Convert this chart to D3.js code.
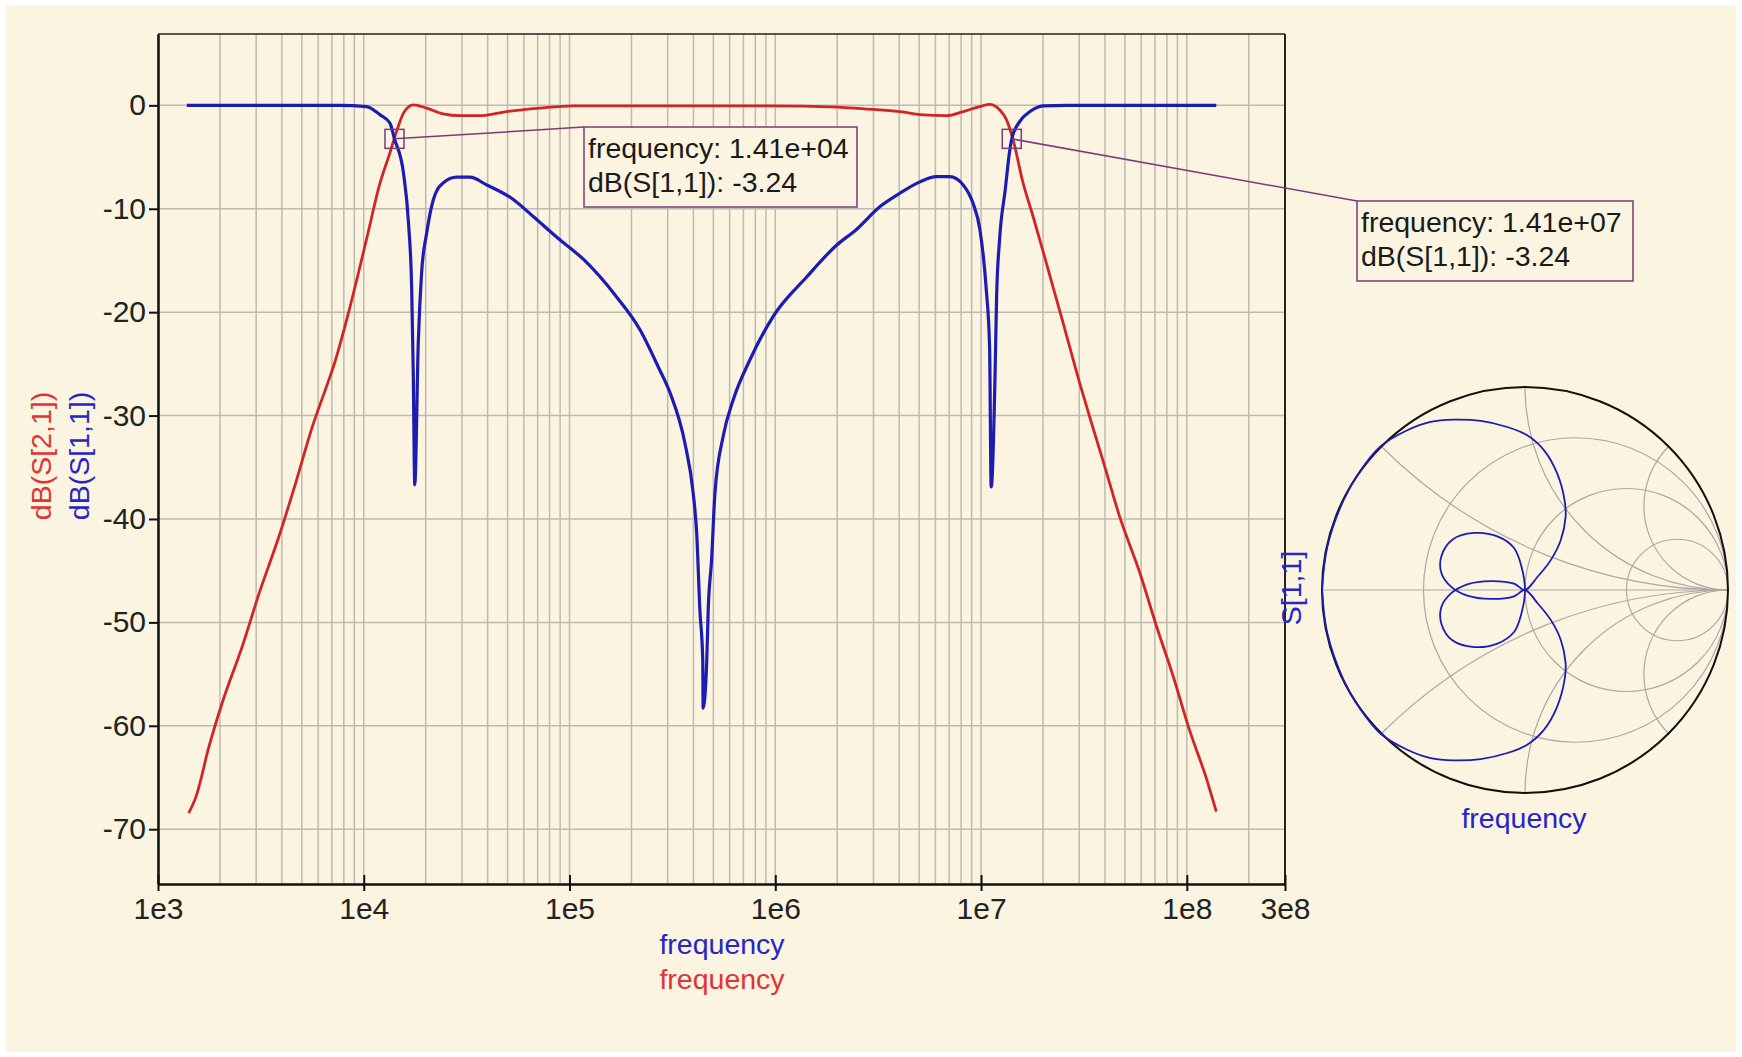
<!DOCTYPE html>
<html><head><meta charset="utf-8">
<script src="https://cdn.jsdelivr.net/npm/d3@7"></script>
<style>body{margin:0;background:#fff;} svg{display:block;}</style>
</head><body><svg id="c" width="1742" height="1057"></svg>
<script>
// ---------------- data ----------------
const xTickVals = [1e3, 1e4, 1e5, 1e6, 1e7, 1e8, 3e8];
const xTickLabels = ["1e3", "1e4", "1e5", "1e6", "1e7", "1e8", "3e8"];
const yTickVals = [0, -10, -20, -30, -40, -50, -60, -70];
const yTickLabels = ["0", "-10", "-20", "-30", "-40", "-50", "-60", "-70"];

// dB(S[2,1]) (red)
const s21Freq = [1.41e3, 1.53e3, 1.77e3, 2.05e3, 2.57e3, 3.10e3, 3.87e3, 4.67e3, 5.62e3, 6.78e3,
  7.11e3, 8.57e3, 1.03e4, 1.20e4, 1.34e4, 1.45e4, 1.56e4, 1.74e4, 2.02e4, 2.43e4,
  2.93e4, 3.67e4, 4.95e4, 7.18e4, 1.04e5, 2.09e5, 9.16e5, 2.02e6, 2.78e6, 3.22e6,
  4.03e6, 5.23e6, 6.80e6, 8.19e6, 9.87e6, 1.10e7, 1.23e7, 1.33e7, 1.43e7, 1.60e7,
  1.79e7, 2.08e7, 2.51e7, 3.02e7, 3.38e7, 3.64e7, 3.92e7, 4.72e7, 5.91e7, 7.13e7,
  8.58e7, 1.03e8, 1.25e8, 1.39e8];
const s21Db = [-68.45, -66.85, -62.0, -57.8, -52.3, -47.2, -41.7, -36.5, -31.1, -26.5,
  -25.3, -19.5, -13.0, -7.5, -4.6, -2.4, -0.75, 0.05, -0.27, -0.82,
  -1.0, -1.0, -0.6, -0.27, -0.05, -0.05, -0.05, -0.17, -0.37, -0.43,
  -0.6, -0.92, -1.0, -0.6, -0.12, 0.1, -0.43, -1.4, -3.3, -7.5,
  -10.75, -15.3, -21.1, -26.9, -30.2, -32.3, -34.4, -39.8, -45.2, -50.4,
  -55.2, -60.4, -65.2, -68.3];

// dB(S[1,1]) (blue)
const s11Freq = [1.38e3, 7.66e3, 1.03e4, 1.20e4, 1.34e4, 1.41e4, 1.56e4, 1.65e4, 1.71e4, 1.74e4,
  1.77e4, 1.84e4, 1.91e4, 2.02e4, 2.18e4, 2.43e4, 2.83e4, 3.28e4, 3.96e4, 5.33e4,
  6.66e4, 8.98e4, 1.17e5, 1.69e5, 2.20e5, 2.70e5, 3.08e5, 3.64e5, 3.99e5, 4.15e5,
  4.30e5, 4.44e5, 4.46e5, 4.64e5, 4.72e5, 4.90e5, 5.09e5, 5.58e5, 6.24e5, 7.53e5,
  9.77e5, 1.42e6, 1.99e6, 2.48e6, 3.22e6, 4.03e6, 5.04e6, 6.08e6, 7.05e6, 8.19e6,
  9.15e6, 9.87e6, 1.06e7, 1.10e7, 1.12e7, 1.17e7, 1.19e7, 1.23e7, 1.31e7, 1.38e7,
  1.41e7, 1.54e7, 1.73e7, 2.00e7, 2.60e7, 1.39e8];
const s11Db = [0, 0, -0.12, -0.92, -1.72, -3.24, -6.56, -11.4, -17.8, -25.9,
  -36.7, -23.0, -16.2, -12.4, -9.1, -7.5, -6.95, -6.95, -7.7, -9.1,
  -10.75, -13.0, -14.9, -18.5, -21.7, -25.3, -27.8, -32.7, -37.5, -41.4,
  -48.8, -53.6, -58.3, -53.9, -48.8, -44.0, -37.5, -32.0, -28.5, -24.6,
  -20.4, -16.6, -13.5, -12.0, -9.8, -8.5, -7.4, -6.9, -6.9, -7.7,
  -9.5, -12.0, -17.8, -23.3, -36.9, -25.9, -18.5, -13.0, -8.2, -4.3,
  -3.24, -1.57, -0.6, -0.05, 0, 0];

// markers
const markerFreq = [1.41e4, 1.41e7];
const markerDb = [-3.24, -3.24];
const markerText1 = ["frequency: 1.41e+04", "frequency: 1.41e+07"];
const markerText2 = ["dB(S[1,1]): -3.24", "dB(S[1,1]): -3.24"];

// S[1,1] on Smith chart (reflection coefficient, real / imag)
const gammaRe = [-1.0, -0.974, -0.895, -0.815, -0.711, -0.580, -0.465, -0.350, -0.218, -0.087,
  0.011, 0.094, 0.159, 0.195, 0.200, 0.176, 0.126, 0.061, 0.0,
  -0.054, -0.169, -0.284, -0.366, -0.412, -0.412, -0.358, -0.251, -0.136, -0.054, -0.018, 0.0,
  -0.018, -0.054, -0.136, -0.251, -0.358, -0.412, -0.412, -0.366, -0.284, -0.169, -0.054, 0.0,
  0.061, 0.126, 0.176, 0.200, 0.195, 0.159, 0.094, 0.011, -0.087, -0.218,
  -0.350, -0.465, -0.580, -0.711, -0.815, -0.895, -0.974, -1.0];
const gammaIm = [0.0, 0.212, 0.440, 0.581, 0.708, 0.787, 0.828, 0.839, 0.833, 0.803,
  0.762, 0.688, 0.573, 0.442, 0.360, 0.245, 0.146, 0.064, 0.0,
  0.031, 0.044, 0.028, -0.018, -0.084, -0.166, -0.248, -0.281, -0.264, -0.207, -0.117, 0.0,
  0.117, 0.207, 0.264, 0.281, 0.248, 0.166, 0.084, 0.018, -0.028, -0.044, -0.031, 0.0,
  -0.064, -0.146, -0.245, -0.360, -0.442, -0.573, -0.688, -0.762, -0.803, -0.833,
  -0.839, -0.828, -0.787, -0.708, -0.581, -0.440, -0.212, 0.0];
const smithR = [1 / 3, 1, 3];
const smithX = [0.4142, 1, 2.4142, -0.4142, -1, -2.4142];

// ---------------- drawing ----------------
const FONT = '"Liberation Sans", Arial, Helvetica, sans-serif';
const FS = 28.5, FS_TICK = 30;
const RED = "#d22424", BLUE = "#1c1cb2", RED_T = "#e03434", BLUE_T = "#2626c8";
const MARK = "#7b3a7b", GRID = "#bdbab2", BG = "#faf4e0";

const svg = d3.select("#c");
svg.append("rect").attr("width", 1742).attr("height", 1057).attr("fill", "#ffffff");
svg.append("rect").attr("x", 6).attr("y", 5).attr("width", 1730).attr("height", 1047).attr("fill", BG);

const x = d3.scaleLog().domain([1e3, 3e8]).range([158, 1285]);
const y = d3.scaleLinear().domain([-75.3, 6.9]).range([884, 34]);
const [X0, X1] = x.range(), [Y0, Y1] = y.range();

// grid
const grid = svg.append("g");
grid.selectAll("line.v").data(x.ticks()).join("line").attr("class", "v")
  .attr("x1", d => x(d)).attr("x2", d => x(d)).attr("y1", Y1).attr("y2", Y0)
  .attr("stroke", GRID).attr("stroke-width", 1.5);
grid.selectAll("line.h").data(yTickVals).join("line").attr("class", "h")
  .attr("x1", X0).attr("x2", X1).attr("y1", d => y(d)).attr("y2", d => y(d))
  .attr("stroke", GRID).attr("stroke-width", 1.5);

// frame top/right
svg.append("line").attr("x1", X0).attr("x2", X1).attr("y1", Y1).attr("y2", Y1).attr("stroke", "#222").attr("stroke-width", 1.5);
svg.append("line").attr("x1", X1).attr("x2", X1).attr("y1", Y1).attr("y2", Y0).attr("stroke", "#222").attr("stroke-width", 2);

// curves
const lineS21 = d3.line().x(i => x(s21Freq[i])).y(i => y(s21Db[i])).curve(d3.curveMonotoneX);
const lineS11 = d3.line().x(i => x(s11Freq[i])).y(i => y(s11Db[i])).curve(d3.curveMonotoneX);
svg.append("path").attr("d", lineS21(d3.range(s21Freq.length))).attr("fill", "none")
  .attr("stroke", RED).attr("stroke-width", 2.8).attr("stroke-linejoin", "round");
svg.append("path").attr("d", lineS11(d3.range(s11Freq.length))).attr("fill", "none")
  .attr("stroke", BLUE).attr("stroke-width", 3.2).attr("stroke-linejoin", "round");

// axes
const xAxis = d3.axisBottom(x).tickValues(xTickVals).tickFormat((d, i) => xTickLabels[i])
  .tickSize(7).tickPadding(7).tickSizeOuter(0);
const gx = svg.append("g").attr("transform", `translate(0,${Y0})`).call(xAxis)
  .attr("font-size", FS_TICK).attr("font-family", FONT);
gx.select(".domain").attr("stroke", "#111").attr("stroke-width", 2.5);
gx.selectAll(".tick line").attr("stroke", "#111").attr("stroke-width", 2);
gx.selectAll(".tick").append("line").attr("y1", 0).attr("y2", -9).attr("stroke", "#111").attr("stroke-width", 2);
gx.selectAll(".tick text").attr("fill", "#222");

const yAxis = d3.axisLeft(y).tickValues(yTickVals).tickFormat((d, i) => yTickLabels[i])
  .tickSize(9).tickPadding(3).tickSizeOuter(0);
const gy = svg.append("g").attr("transform", `translate(${X0},0)`).call(yAxis)
  .attr("font-size", FS_TICK).attr("font-family", FONT);
gy.select(".domain").attr("stroke", "#111").attr("stroke-width", 2.5);
gy.selectAll(".tick line").attr("stroke", "#111").attr("stroke-width", 2);
gy.selectAll(".tick text").attr("fill", "#222");

// axis titles
function label(txt, tx, ty, color, rot) {
  svg.append("text").attr("transform", `translate(${tx},${ty})` + (rot ? " rotate(-90)" : ""))
    .attr("text-anchor", "middle").attr("font-family", FONT).attr("font-size", FS)
    .attr("fill", color).text(txt);
}
label("dB(S[2,1])", 51, 456, RED_T, true);
label("dB(S[1,1])", 89, 456, BLUE_T, true);
label("frequency", 722, 954, BLUE_T, false);
label("frequency", 722, 989, RED_T, false);

// markers and annotation boxes
const boxes = [{ x: 584, y: 127, w: 273, h: 80 }, { x: 1357, y: 201, w: 276, h: 80 }];
markerFreq.forEach((f, i) => {
  const mx = x(f), my = y(markerDb[i]), b = boxes[i];
  svg.append("line").attr("x1", mx).attr("y1", my).attr("x2", b.x).attr("y2", b.y)
    .attr("stroke", MARK).attr("stroke-width", 1.5);
  svg.append("rect").attr("x", mx - 9.5).attr("y", my - 9.5).attr("width", 19).attr("height", 19)
    .attr("fill", "none").attr("stroke", MARK).attr("stroke-width", 1.5);
  svg.append("rect").attr("x", b.x).attr("y", b.y).attr("width", b.w).attr("height", b.h)
    .attr("fill", BG).attr("stroke", MARK).attr("stroke-width", 1.5);
  svg.append("text").attr("x", b.x + 4).attr("y", b.y + 31).attr("font-family", FONT)
    .attr("font-size", FS).attr("fill", "#1a1a1a").text(markerText1[i]);
  svg.append("text").attr("x", b.x + 4).attr("y", b.y + 65).attr("font-family", FONT)
    .attr("font-size", FS).attr("fill", "#1a1a1a").text(markerText2[i]);
});

// ---------------- Smith chart ----------------
const sx = d3.scaleLinear().domain([-1, 1]).range([1322, 1728]);
const sy = d3.scaleLinear().domain([-1, 1]).range([793, 387]);
const R = (sx(1) - sx(-1)) / 2;
svg.append("clipPath").attr("id", "smithClip").append("circle")
  .attr("cx", sx(0)).attr("cy", sy(0)).attr("r", R);
const sg = svg.append("g").attr("clip-path", "url(#smithClip)");
sg.selectAll("circle.r").data(smithR).join("circle").attr("class", "r")
  .attr("cx", r => sx(r / (1 + r))).attr("cy", sy(0)).attr("r", r => R / (1 + r))
  .attr("fill", "none").attr("stroke", "#aaa9a4").attr("stroke-width", 1.2);
sg.selectAll("circle.x").data(smithX).join("circle").attr("class", "x")
  .attr("cx", sx(1)).attr("cy", v => sy(1 / v)).attr("r", v => R / Math.abs(v))
  .attr("fill", "none").attr("stroke", "#aaa9a4").attr("stroke-width", 1.2);
sg.append("line").attr("x1", sx(-1)).attr("x2", sx(1)).attr("y1", sy(0)).attr("y2", sy(0))
  .attr("stroke", "#aaa9a4").attr("stroke-width", 1.2);
svg.append("circle").attr("cx", sx(0)).attr("cy", sy(0)).attr("r", R)
  .attr("fill", "none").attr("stroke", "#111").attr("stroke-width", 2);
const lineG = d3.line().x(i => sx(gammaRe[i])).y(i => sy(gammaIm[i])).curve(d3.curveCatmullRom.alpha(0.5));
svg.append("path").attr("d", lineG(d3.range(gammaRe.length))).attr("fill", "none")
  .attr("stroke", BLUE).attr("stroke-width", 1.8);

label("S[1,1]", 1301, 588, BLUE_T, true);
label("frequency", 1524, 828, BLUE_T, false);
</script>
</body></html>
